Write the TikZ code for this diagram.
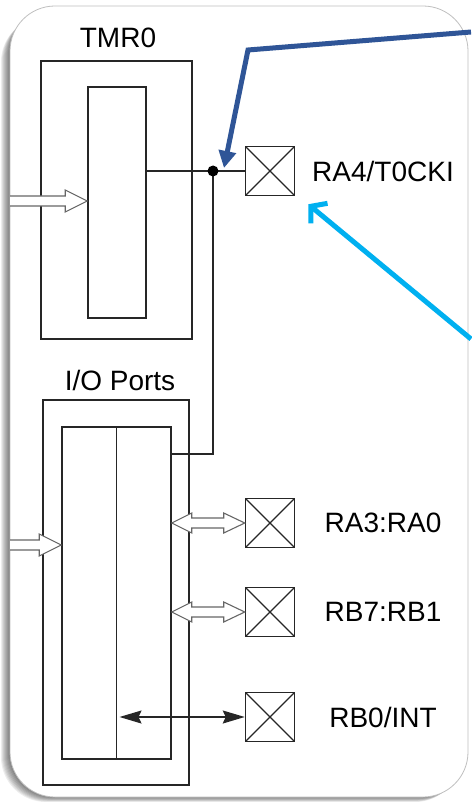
\documentclass[tikz,border=0pt]{standalone}
\usepackage{fontspec}
\setmainfont{Liberation Sans}
\usetikzlibrary{calc,arrows.meta,positioning}

\definecolor{darkblue}{RGB}{47,85,151}
\definecolor{lightblue}{RGB}{0,176,240}

% hollow arrow, one head at #2
\newcommand{\hollowin}[2]{%
\draw[hollow] let \p1=(#1), \p2=(#2) in (\x1,\y2+5pt) -- (\x2-22pt,\y2+5pt) -- (\x2-22pt,\y2+11pt) -- (\x2,\y2) -- (\x2-22pt,\y2-11pt) -- (\x2-22pt,\y2-5pt) -- (\x1,\y2-5pt);}
% hollow arrow, heads at both ends
\newcommand{\hollowboth}[2]{%
\draw[hollow] let \p1=(#1), \p2=(#2) in (\x1,\y2) -- (\x1+20pt,\y2+10pt) -- (\x1+20pt,\y2+5pt) -- (\x2-21pt,\y2+5pt) -- (\x2-21pt,\y2+10pt) -- (\x2,\y2) -- (\x2-21pt,\y2-10pt) -- (\x2-21pt,\y2-5pt) -- (\x1+20pt,\y2-5pt) -- (\x1+20pt,\y2-10pt) -- cycle;}

\begin{document}
\begin{tikzpicture}[x=1pt, y=-1pt,
  block/.style = {draw=black!85, line width=1.5pt, minimum width=#1, inner sep=0pt},
  pinbox/.style = {draw=black!85, line width=1.5pt, minimum size=49pt, inner sep=0pt,
    path picture={\draw[line width=1.1pt] (path picture bounding box.north west) -- (path picture bounding box.south east)
      (path picture bounding box.north east) -- (path picture bounding box.south west);}},
  pinlabel/.style = {font=\fontsize{28}{32}\selectfont, inner sep=0pt},
  wire/.style = {black!85, line width=1.5pt},
  hollow/.style = {gray!80!black, line width=1.1pt, fill=white},
  pointer/.style = {line width=5pt}]
\useasboundingbox (0,0) rectangle (471,802);

% frame with shadow
\foreach \i in {1,...,10}
  \fill[black, opacity=0.07, rounded corners=45pt] (11-\i,8+\i*0.9) rectangle (468-\i*0.8,796+\i*0.6);
\draw[gray!50, line width=0.8pt, fill=white, rounded corners=45pt] (10,6) rectangle (468,797);

% TMR0
\node[block=151pt, minimum height=278pt] (tmr) at (116.5,200) {};
\node[block=58pt, minimum height=231pt] (tmrin) at (117,202.5) {};
\node[pinlabel] (tmrlabel) at (118,38) {TMR0};

% I/O ports
\node[block=146pt, minimum height=385pt] (io) at (116,592.5) {};
\node[block=109pt, minimum height=332pt] (ioin) at (116.5,593) {};
\draw[wire] (ioin.north) -- (ioin.south);
\node[pinlabel] (iolabel) at (120,380) {I/O Ports};

% pins
\node[pinbox] (pa4) at (270,171) {};
\node[pinbox] (pa3) at (270,523) {};
\node[pinbox] (pb7) at (270,612) {};
\node[pinbox] (pb0) at (270,717) {};
\node[pinlabel] (la4) at (383,171) {RA4/T0CKI};
\node[pinlabel] (la3) at (383,523) {RA3:RA0};
\node[pinlabel] (lb7) at (383,612) {RB7:RB1};
\node[pinlabel] (lb0) at (383,717) {RB0/INT};

% wires
\coordinate (jn) at (213,171);
\coordinate (ioout) at (171,454);
\draw[wire] (tmrin.east |- pa4) -- (pa4.west);
\draw[wire] (jn) |- (ioout);
\fill (jn) circle (5.5pt);
\draw[wire, {Stealth[length=22pt,width=13pt,inset=3pt]}-{Stealth[length=22pt,width=13pt,inset=3pt]}]
  ([xshift=3pt]ioin.center |- pb0) -- (pb0.west);

% hollow arrows
\coordinate (tmrsrc) at (10,201);
\coordinate (iosrc) at (10,545);
\hollowin{tmrsrc}{tmrin.west |- tmrsrc}
\hollowin{iosrc}{ioin.west |- iosrc}
\hollowboth{ioin.east |- pa3}{pa3.west}
\hollowboth{ioin.east |- pb7}{pb7.west}

% pointers
\coordinate (darkstart) at (471,32);
\coordinate (darkbend) at (248,50);
\coordinate (lightstart) at (471,339);
\draw[pointer, darkblue, -{Triangle[length=17pt,width=17pt]}] (darkstart) -- (darkbend) -- ([shift={(11,-3)}]jn);
\draw[pointer, lightblue, -{Straight Barb[length=11pt,width=26pt]}] (lightstart) -- ([shift={(13,8)}]pa4.south east);

\end{tikzpicture}
\end{document}
